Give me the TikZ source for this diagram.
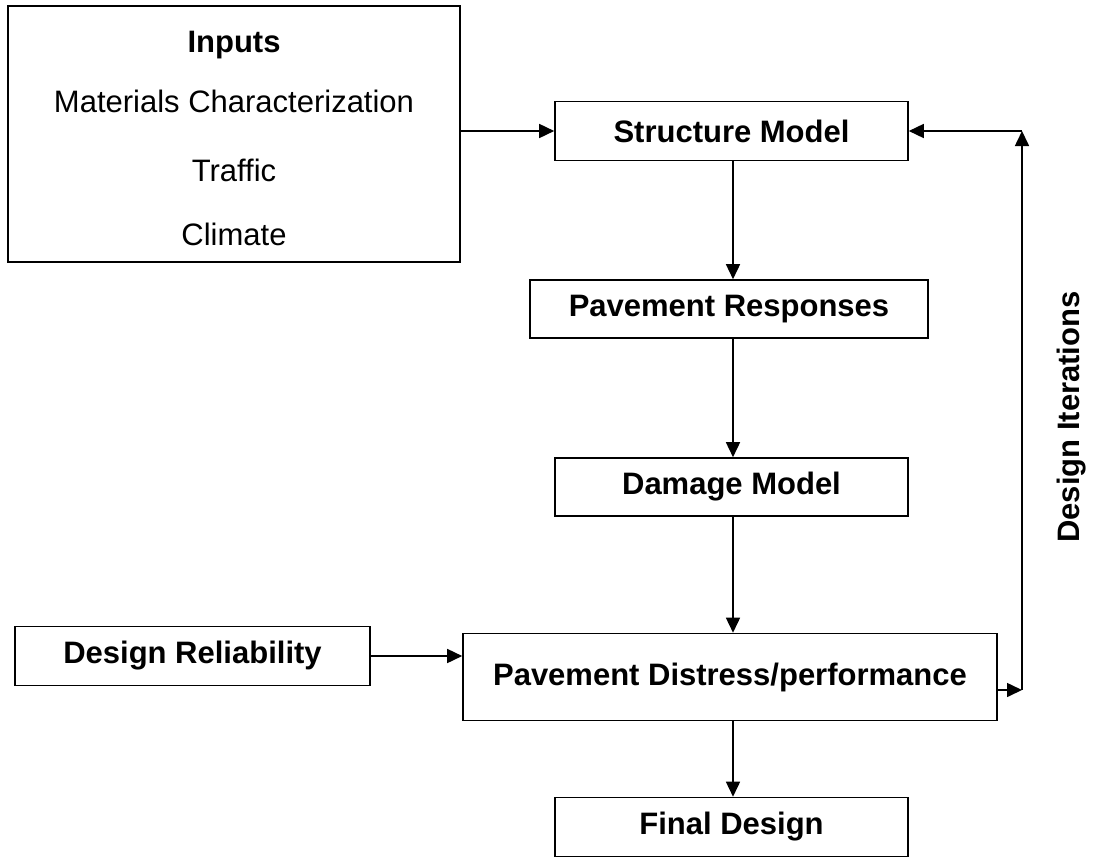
\documentclass[tikz,border=0pt]{standalone}
\usepackage{fontspec}
\setmainfont{Liberation Sans}
\usetikzlibrary{arrows.meta}
\begin{document}
\begin{tikzpicture}[x=1pt,y=-1pt,
  txt/.style={font=\fontsize{31}{36}\selectfont},
  btxt/.style={font=\fontsize{31}{36}\selectfont\bfseries},
  box/.style={draw,line width=1.6pt,inner sep=0pt,btxt},
  conn/.style={line width=1.6pt,-{Triangle[length=15pt,width=14pt]}}]
\useasboundingbox (0,0) rectangle (1094,864);
\node[box,minimum width=452pt,minimum height=256pt] (inp) at (234,134) {};
\node[btxt] (inph) at (234,45) {Inputs};
\node[txt] (mat) at (234,101) {Materials Characterization};
\node[txt] (tra) at (234,170) {Traffic};
\node[txt] (cli) at (234,234) {Climate};
\node[box,minimum width=353pt,minimum height=59pt] (sm) at (731.5,131) {Structure Model};
\node[box,minimum width=398pt,minimum height=58pt] (pr) at (729,309) {Pavement Responses};
\node[box,minimum width=353pt,minimum height=58pt] (dm) at (731.5,487) {Damage Model};
\node[box,minimum width=355pt,minimum height=59pt] (dr) at (192.5,656) {Design Reliability};
\node[box,minimum width=534pt,minimum height=87pt] (pd) at (730,677) {Pavement Distress/performance};
\node[box,minimum width=353pt,minimum height=59pt] (fd) at (731.5,827) {Final Design};
\node[btxt,rotate=90] (di) at (1072,417) {Design Iterations};
\coordinate (top) at (1022,131);
\coordinate (bot) at (1022,690);
\draw[conn] (inp.east |- sm.west) -- (sm.west);
\draw[conn] (sm.south -| 733,0) -- (pr.north -| 733,0);
\draw[conn] (pr.south -| 733,0) -- (dm.north -| 733,0);
\draw[conn] (dm.south -| 733,0) -- (pd.north -| 733,0);
\draw[conn] (pd.south -| 733,0) -- (fd.north -| 733,0);
\draw[conn] (dr.east) -- (dr.east -| pd.west);
\draw[conn] (pd.east |- bot) -- (bot);
\draw[conn] (bot) -- (top);
\draw[conn] (top) -- (sm.east);
\end{tikzpicture}
\end{document}
